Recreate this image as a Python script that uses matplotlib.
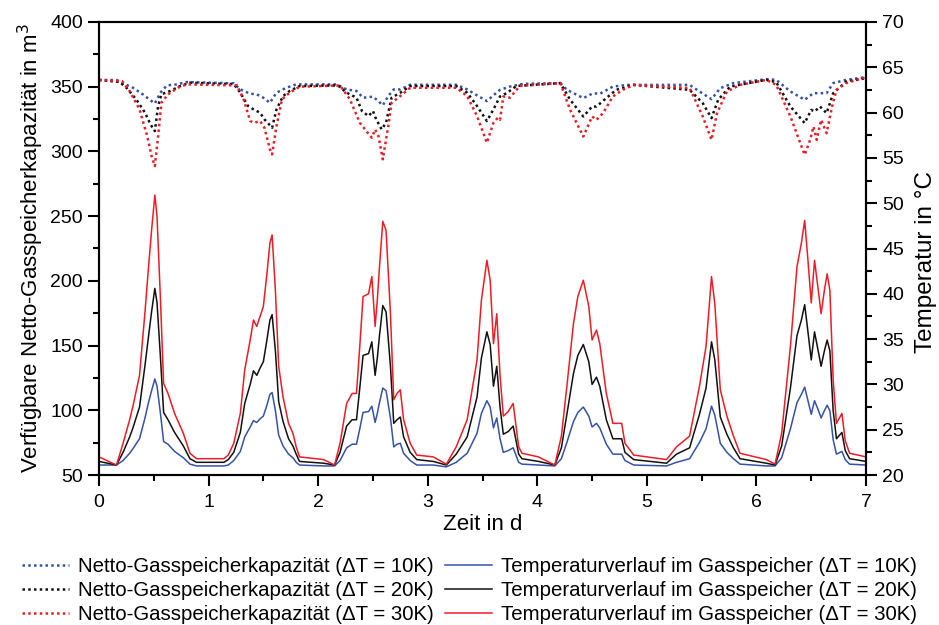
import matplotlib
matplotlib.use('Agg')
import matplotlib.pyplot as plt
from matplotlib.ticker import MultipleLocator

plt.rcParams['font.family'] = ['Liberation Sans', 'DejaVu Sans']

# Netto-Gasspeicherkapazität (m³), linke Achse
t_cap_10 = [0.0, 0.16, 0.22, 0.31, 0.40, 0.50, 0.51, 0.56, 0.62, 0.71, 0.80,
            1.23, 1.29, 1.38, 1.44, 1.50, 1.56, 1.62, 1.71, 1.80,
            2.17, 2.26, 2.35, 2.41, 2.50, 2.55, 2.59, 2.64, 2.69, 2.75, 2.84,
            3.26, 3.36, 3.45, 3.54, 3.61, 3.66, 3.75, 3.87,
            4.21, 4.27, 4.42, 4.51, 4.57, 4.69, 4.82,
            5.39, 5.48, 5.59, 5.67, 5.79,
            6.09, 6.18, 6.31, 6.44, 6.52, 6.64, 6.70, 6.82, 7.0]
cap_10 = [355.2, 355.2, 352.6, 349.2, 344.1, 337.6, 337.1, 345.4, 351.0, 351.8, 353.6,
          352.6, 347.9, 344.6, 344.1, 341.5, 337.6, 345.4, 349.2, 351.8,
          351.8, 347.9, 346.7, 341.5, 342.3, 338.9, 335.6, 342.8, 347.9, 347.9, 351.5,
          351.5, 347.9, 343.3, 338.9, 344.1, 347.6, 350.1, 352.2,
          352.8, 347.6, 341.2, 345.0, 344.5, 350.1, 351.4,
          351.4, 346.3, 340.4, 348.9, 352.8,
          355.8, 355.3, 346.3, 339.9, 345.0, 345.0, 352.8, 355.3, 357.4]

t_cap_20 = [0.0, 0.19, 0.25, 0.34, 0.42, 0.47, 0.51, 0.54, 0.57, 0.65, 0.74, 0.83,
            1.23, 1.29, 1.36, 1.41, 1.47, 1.51, 1.58, 1.62, 1.68, 1.74, 1.83,
            2.18, 2.26, 2.35, 2.40, 2.46, 2.50, 2.53, 2.58, 2.62, 2.67, 2.75, 2.84,
            3.26, 3.36, 3.45, 3.54, 3.60, 3.66, 3.72, 3.81,
            4.21, 4.30, 4.42, 4.50, 4.54, 4.63, 4.72, 4.88,
            5.39, 5.51, 5.59, 5.65, 5.76,
            6.09, 6.18, 6.31, 6.44, 6.50, 6.53, 6.58, 6.64, 6.70, 6.82, 7.0]
cap_20 = [355.2, 353.6, 349.2, 340.2, 329.9, 320.9, 315.7, 335.1, 344.1, 346.7, 350.5, 353.1,
          352.0, 345.4, 335.1, 332.5, 329.9, 324.8, 318.3, 332.5, 342.8, 346.7, 350.5,
          351.0, 345.4, 341.5, 331.2, 327.3, 331.2, 324.8, 317.0, 322.2, 341.5, 345.4, 350.5,
          350.5, 345.4, 335.1, 323.5, 332.5, 342.5, 345.0, 350.6,
          352.8, 339.9, 327.0, 334.7, 334.7, 341.2, 347.6, 351.4,
          347.6, 337.3, 325.7, 339.9, 350.1,
          355.3, 353.5, 334.7, 321.9, 332.1, 330.8, 334.7, 329.6, 345.0, 354.0, 356.6]

t_cap_30 = [0.0, 0.21, 0.28, 0.37, 0.44, 0.48, 0.51, 0.54, 0.57, 0.63, 0.72, 0.80,
            1.26, 1.32, 1.38, 1.42, 1.47, 1.51, 1.56, 1.58, 1.62, 1.67, 1.74, 1.83,
            2.20, 2.29, 2.38, 2.44, 2.49, 2.52, 2.55, 2.59, 2.64, 2.67, 2.75, 2.84,
            3.26, 3.36, 3.45, 3.54, 3.60, 3.64, 3.66, 3.69, 3.75, 3.84,
            4.21, 4.30, 4.42, 4.50, 4.54, 4.60, 4.69, 4.78, 4.88,
            5.39, 5.51, 5.59, 5.64, 5.73, 5.85,
            6.09, 6.18, 6.31, 6.40, 6.44, 6.49, 6.52, 6.55, 6.59, 6.64, 6.69, 6.73, 6.82, 7.0]
cap_30 = [355.2, 354.4, 346.7, 332.5, 311.9, 296.4, 288.7, 311.9, 337.6, 344.1, 349.2, 351.8,
          351.0, 340.2, 323.5, 322.2, 323.5, 318.3, 301.6, 297.7, 319.6, 340.2, 345.4, 350.0,
          351.0, 340.2, 322.2, 315.7, 310.6, 317.0, 311.9, 293.9, 319.6, 337.6, 342.8, 349.2,
          349.2, 342.8, 327.3, 306.7, 322.2, 326.0, 324.4, 342.5, 341.5, 350.6,
          352.8, 332.1, 311.5, 327.0, 324.4, 329.6, 342.5, 347.6, 351.4,
          349.0, 327.0, 309.0, 329.6, 346.3, 351.4,
          355.3, 351.4, 327.0, 306.4, 297.4, 309.0, 319.2, 309.0, 324.4, 314.1, 334.7, 347.6, 352.8, 357.4]

# Temperaturverlauf im Gasspeicher (°C), rechte Achse
t_temp = [0.00, 0.16, 0.22, 0.28, 0.31, 0.37, 0.42, 0.45, 0.48, 0.51, 0.53, 0.56, 0.59, 0.63,
          0.69, 0.77, 0.83, 0.89,
          1.14, 1.18, 1.23, 1.29, 1.33, 1.38, 1.41, 1.44, 1.47, 1.50, 1.53, 1.56, 1.58, 1.61,
          1.64, 1.68, 1.73, 1.77, 1.80, 1.83,
          2.05, 2.15, 2.20, 2.26, 2.31, 2.35, 2.38, 2.41, 2.46, 2.49, 2.52, 2.54, 2.56, 2.59,
          2.62, 2.66, 2.69, 2.72, 2.75, 2.78, 2.84, 2.90,
          3.05, 3.17, 3.26, 3.36, 3.45, 3.49, 3.54, 3.57, 3.60, 3.63, 3.66, 3.69, 3.735, 3.78,
          3.83, 3.86,
          4.01, 4.16, 4.22, 4.27, 4.33, 4.37, 4.42, 4.47, 4.50, 4.54, 4.57, 4.63, 4.69, 4.77,
          4.80, 4.88,
          5.18, 5.27, 5.39, 5.48, 5.54, 5.59, 5.62, 5.67, 5.73, 5.79, 5.85,
          6.09, 6.17, 6.23, 6.31, 6.37, 6.41, 6.44, 6.47, 6.50, 6.53, 6.56, 6.59, 6.62, 6.645,
          6.67, 6.70, 6.73, 6.78, 6.81, 6.85, 7.00]
temp_30 = [22.0, 21.1, 23.5, 26.1, 27.6, 31.0, 38.0, 42.6, 47.0, 50.9, 48.5, 39.7, 30.1, 29.0,
           26.8, 24.6, 22.4, 21.8,
           21.8, 22.2, 23.5, 26.8, 31.6, 34.9, 37.1, 36.4, 37.5, 38.6, 41.9, 45.6, 46.5, 40.4,
           32.0, 28.6, 25.7, 24.6, 23.1, 22.0,
           21.7, 21.1, 23.5, 27.9, 29.0, 29.0, 34.2, 39.7, 40.0, 41.9, 36.4, 39.3, 43.0, 48.0,
           47.0, 37.8, 28.3, 29.0, 29.4, 26.1, 23.5, 22.2,
           22.0, 21.2, 23.1, 26.1, 32.7, 39.3, 43.7, 41.5, 34.5, 37.8, 31.0, 26.5, 27.0, 27.9,
           23.1, 22.4,
           22.0, 21.1, 24.3, 29.8, 36.7, 39.7, 41.5, 38.6, 34.9, 36.0, 34.5, 29.0, 25.7, 25.7,
           23.5, 22.2,
           21.7, 23.1, 24.3, 29.8, 34.2, 41.9, 38.9, 29.4, 26.5, 24.3, 22.4,
           21.7, 21.2, 24.6, 34.2, 43.0, 45.6, 48.1, 43.7, 39.0, 43.7, 40.8, 37.8, 40.4, 42.2,
           40.4, 30.5, 25.7, 26.8, 23.8, 22.4, 22.0]
temp_20 = [21.5, 21.1, 22.5, 24.2, 25.2, 27.5, 32.1, 35.1, 38.0, 40.6, 39.0, 33.2, 26.9, 26.1,
           24.7, 23.2, 21.8, 21.4,
           21.4, 21.7, 22.5, 24.7, 27.9, 30.0, 31.5, 31.0, 31.8, 32.5, 34.7, 37.1, 37.7, 33.7,
           28.1, 25.9, 24.0, 23.2, 22.3, 21.5,
           21.3, 21.1, 22.5, 25.4, 26.1, 26.1, 29.6, 33.2, 33.4, 34.7, 31.0, 32.9, 35.4, 38.7,
           38.0, 32.0, 25.7, 26.1, 26.4, 24.2, 22.5, 21.7,
           21.5, 21.1, 22.3, 24.2, 28.6, 32.9, 35.8, 34.4, 29.8, 32.0, 27.5, 24.5, 24.8, 25.4,
           22.3, 21.8,
           21.5, 21.1, 23.0, 26.7, 31.2, 33.2, 34.4, 32.5, 30.0, 30.8, 29.8, 26.1, 24.0, 24.0,
           22.5, 21.7,
           21.3, 22.3, 23.0, 26.7, 29.6, 34.7, 32.7, 26.4, 24.5, 23.0, 21.8,
           21.3, 21.1, 23.2, 29.6, 35.4, 37.1, 38.8, 35.8, 32.7, 35.8, 33.9, 32.0, 33.7, 34.9,
           33.7, 27.1, 24.0, 24.7, 22.7, 21.8, 21.5]
temp_10 = [21.1, 21.1, 21.6, 22.4, 22.9, 24.0, 26.3, 27.9, 29.3, 30.6, 29.8, 26.9, 23.7, 23.4,
           22.6, 21.9, 21.2, 21.0,
           21.0, 21.1, 21.6, 22.6, 24.2, 25.3, 26.0, 25.8, 26.2, 26.5, 27.6, 28.9, 29.1, 27.1,
           24.4, 23.2, 22.3, 21.9, 21.4, 21.1,
           21.0, 21.0, 21.6, 23.0, 23.4, 23.4, 25.1, 26.9, 27.0, 27.6, 25.8, 26.8, 28.0, 29.6,
           29.3, 26.3, 23.1, 23.4, 23.5, 22.4, 21.6, 21.1,
           21.1, 20.9, 21.4, 22.4, 24.6, 26.8, 28.2, 27.5, 25.2, 26.3, 24.0, 22.5, 22.7, 23.0,
           21.4, 21.2,
           21.1, 21.0, 21.8, 23.6, 25.9, 26.9, 27.5, 26.5, 25.3, 25.7, 25.2, 23.4, 22.3, 22.3,
           21.6, 21.1,
           21.0, 21.4, 21.8, 23.6, 25.1, 27.6, 26.6, 23.5, 22.5, 21.8, 21.2,
           21.0, 21.0, 21.9, 25.1, 28.0, 28.9, 29.7, 28.2, 26.7, 28.2, 27.3, 26.3, 27.1, 27.7,
           27.1, 23.9, 22.3, 22.6, 21.7, 21.2, 21.1]

c_blue = '#3552a8'
c_red = '#ee1c25'
c_black = '#111111'

fig = plt.figure(figsize=(9.39, 6.25), dpi=100)
ax = fig.add_axes([0.1054, 0.24, 0.8169, 0.7248])
ax2 = ax.twinx()

dot = (0, (1, 1.3))
h1, = ax.plot(t_cap_10, cap_10, color=c_blue, lw=1.8, ls=dot)
h2, = ax.plot(t_cap_20, cap_20, color=c_black, lw=1.8, ls=dot)
h3, = ax.plot(t_cap_30, cap_30, color=c_red, lw=1.8, ls=dot)
h4, = ax2.plot(t_temp, temp_10, color=c_blue, lw=1.1)
h5, = ax2.plot(t_temp, temp_20, color=c_black, lw=1.1)
h6, = ax2.plot(t_temp, temp_30, color=c_red, lw=1.1)

ax.set_xlim(0, 7)
ax.set_ylim(50, 400)
ax2.set_ylim(20, 70)

ax.xaxis.set_major_locator(MultipleLocator(1))
ax.xaxis.set_minor_locator(MultipleLocator(0.5))
ax.yaxis.set_major_locator(MultipleLocator(50))
ax.yaxis.set_minor_locator(MultipleLocator(25))
ax2.yaxis.set_major_locator(MultipleLocator(5))
ax2.yaxis.set_minor_locator(MultipleLocator(2.5))

for a in (ax, ax2):
    for s in a.spines.values():
        s.set_linewidth(1.5)
    a.tick_params(which='major', direction='out', length=8, width=1.5, labelsize=14)
    a.tick_params(which='minor', direction='out', length=4.5, width=1.5)
ax.tick_params(axis='x', pad=6)

ax.set_xlabel('Zeit in d', fontsize=16, labelpad=2)
ax.set_ylabel('Verfügbare Netto-Gasspeicherkapazität in m$^3$', fontsize=16, labelpad=3)
ax2.set_ylabel('Temperatur in °C', fontsize=17.5)
ax2.yaxis.set_label_coords(1.064, 0.47)

labels = ['Netto-Gasspeicherkapazität (ΔT = 10K)',
          'Netto-Gasspeicherkapazität (ΔT = 20K)',
          'Netto-Gasspeicherkapazität (ΔT = 30K)',
          'Temperaturverlauf im Gasspeicher (ΔT = 10K)',
          'Temperaturverlauf im Gasspeicher (ΔT = 20K)',
          'Temperaturverlauf im Gasspeicher (ΔT = 30K)']
fig.legend([h1, h2, h3, h4, h5, h6], labels, ncol=2, loc='lower center',
           bbox_to_anchor=(0.5, 0.0), frameon=False, fontsize=14.7,
           handlelength=2.3, handletextpad=0.43, columnspacing=0.57,
           labelspacing=0.25, borderaxespad=0.0, borderpad=0.05)

fig.savefig('out.png', dpi=100)
